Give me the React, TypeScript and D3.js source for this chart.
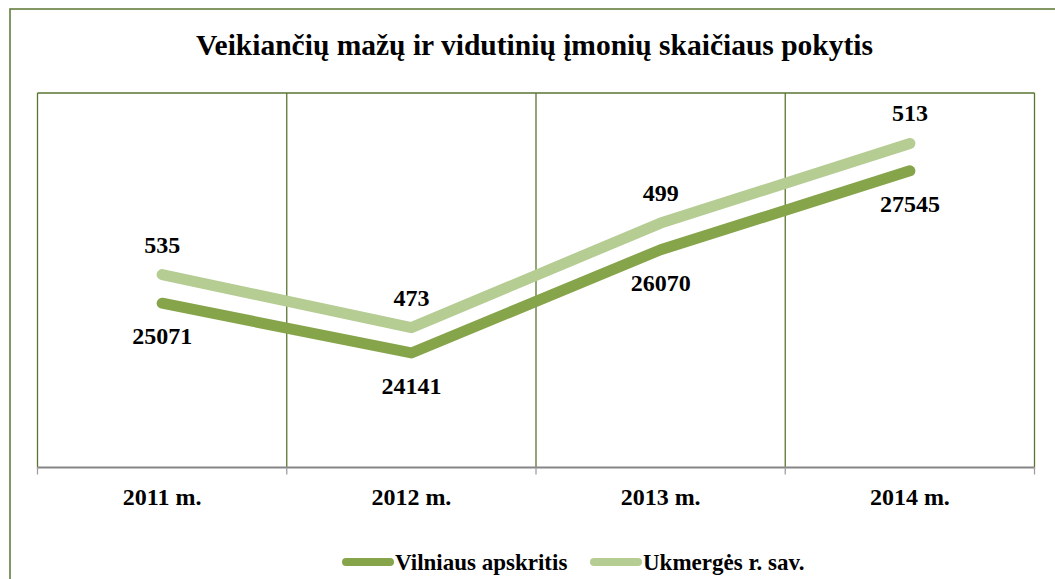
import React from "react";
import * as d3 from "d3";

const categories = ["2011 m.", "2012 m.", "2013 m.", "2014 m."];
const vilniausValues = [25071, 24141, 26070, 27545];
const ukmergesValues = [535, 473, 499, 513];
const seriesNames = ["Vilniaus apskritis", "Ukmergės r. sav."];
const titleText = "Veikiančių mažų ir vidutinių įmonių skaičiaus pokytis";
const yDomain = [22000, 29000];

const W = 1055;
const H = 579;
const plot = { left: 37.5, right: 1034.5, top: 93, bottom: 467.5 };
const colors = ["#86a44a", "#b5cc93"];
const gridColor = "#5a7530";
const txt = { fontFamily: "Liberation Serif", fontWeight: "bold" as const };

export default function App() {
  const x = d3
    .scaleBand<string>()
    .domain(categories)
    .range([plot.left, plot.right])
    .padding(0);
  const y = d3.scaleLinear().domain(yDomain).range([plot.bottom, plot.top]);

  const table = categories.map((c, i) => ({
    cat: c,
    v: vilniausValues[i],
    u: ukmergesValues[i],
  }));
  const stacked = d3.stack<any>().keys(["v", "u"])(table);
  const cx = (c: string) => (x(c) as number) + x.bandwidth() / 2;

  const line = d3
    .line<any>()
    .x((d) => cx(d.data.cat))
    .y((d) => y(d[1]));

  const boundaries = [plot.left, ...categories.map((c) => (x(c) as number) + x.bandwidth())];
  const labelSeries = [vilniausValues, ukmergesValues];
  const labelOffsets = [41, -22];

  return (
    <svg width={W} height={H} style={{ position: "absolute", left: 0, top: 0, background: "#fff" }}>
      <rect x={0} y={0} width={W} height={H} fill="#fff" />
      <rect x={10} y={9} width={W + 20} height={H + 20} fill="none" stroke={gridColor} strokeWidth={1.5} />
      <text x={534.5} y={55} textAnchor="middle" fontSize={29.5} fill="#000" style={txt}>
        {titleText}
      </text>
      <line x1={plot.left} x2={plot.right} y1={plot.top} y2={plot.top} stroke={gridColor} strokeWidth={1.3} />
      {boundaries.map((b, i) => (
        <line key={"g" + i} x1={b} x2={b} y1={plot.top} y2={plot.bottom} stroke={gridColor} strokeWidth={1.3} />
      ))}
      <line x1={plot.left} x2={plot.right} y1={plot.bottom} y2={plot.bottom} stroke="#868686" strokeWidth={2} />
      {boundaries.map((b, i) => (
        <line key={"t" + i} x1={b} x2={b} y1={plot.bottom} y2={plot.bottom + 7} stroke="#a0a0a0" strokeWidth={1.3} />
      ))}
      {categories.map((c) => (
        <text key={c} x={cx(c)} y={505} textAnchor="middle" fontSize={24} fill="#000" style={txt}>
          {c}
        </text>
      ))}
      {stacked.map((s, si) => (
        <path
          key={"l" + si}
          d={line(s as any) as string}
          fill="none"
          stroke={colors[si]}
          strokeWidth={11}
          strokeLinecap="round"
          strokeLinejoin="round"
        />
      ))}
      {stacked.map((s, si) =>
        s.map((d: any, i: number) => (
          <text
            key={"lab" + si + "-" + i}
            x={cx(d.data.cat)}
            y={y(d[1]) + labelOffsets[si]}
            textAnchor="middle"
            fontSize={24}
            fill="#000"
            style={txt}
          >
            {labelSeries[si][i]}
          </text>
        ))
      )}
      {seriesNames.map((n, i) => {
        const lx = [342, 590][i];
        return (
          <g key={n}>
            <line x1={lx + 4} x2={lx + 48} y1={562} y2={562} stroke={colors[i]} strokeWidth={8} strokeLinecap="round" />
            <text x={lx + 53} y={570} fontSize={23} fill="#000" style={txt}>
              {n}
            </text>
          </g>
        );
      })}
    </svg>
  );
}
